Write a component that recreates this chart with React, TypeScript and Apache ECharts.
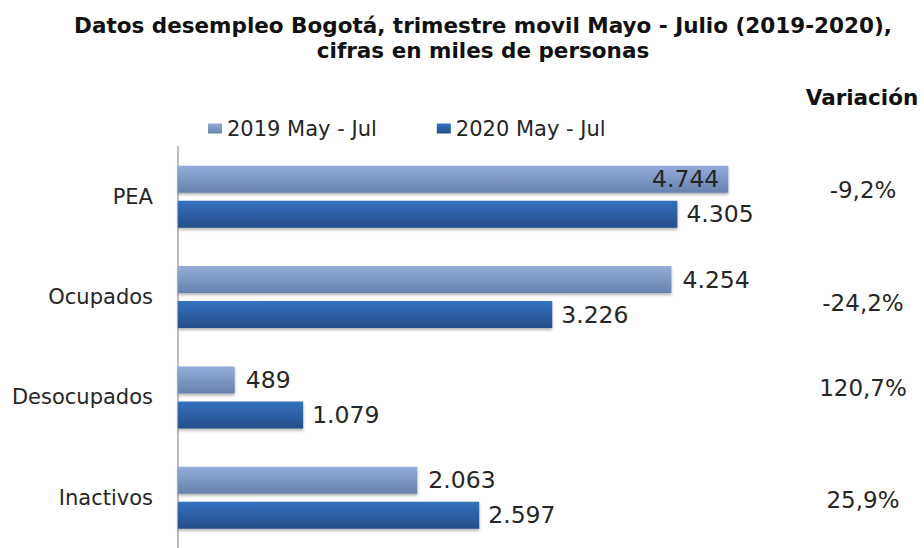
import React, { useEffect, useRef } from "react";
import * as echarts from "echarts";

const categories = ["PEA", "Ocupados", "Desocupados", "Inactivos"];
const seriesNames = ["2019 May - Jul", "2020 May - Jul"];
const values2019 = [4744, 4254, 489, 2063];
const values2020 = [4305, 3226, 1079, 2597];
const variations = ["-9,2%", "-24,2%", "120,7%", "25,9%"];
const variationY = [190, 303, 388, 500];

const fmt = (v: number) => {
  const s = Math.round(v).toString();
  return s.replace(/\B(?=(\d{3})+(?!\d))/g, ".");
};

const FONT = "DejaVu Sans";

export default function App() {
  const ref = useRef<HTMLDivElement>(null);
  useEffect(() => {
    if (!ref.current) return;
    const chart = echarts.init(ref.current, null, { renderer: "svg" });
    const grad = (top: string, bottom: string) =>
      new echarts.graphic.LinearGradient(0, 0, 0, 1, [
        { offset: 0, color: top },
        { offset: 1, color: bottom },
      ]);
    chart.setOption({
      animation: false,
      backgroundColor: "#ffffff",
      title: {
        text: "Datos desempleo Bogotá, trimestre movil Mayo - Julio (2019-2020),\ncifras en miles de personas",
        left: 478,
        top: 8,
        textAlign: "center",
        textStyle: {
          fontFamily: FONT,
          fontWeight: "bold",
          fontSize: 21.5,
          lineHeight: 25,
          color: "#111",
        },
      },
      legend: {
        left: 203,
        top: 113,
        itemWidth: 14,
        itemHeight: 10,
        itemGap: 60,
        icon: "rect",
        textStyle: { fontFamily: FONT, fontSize: 21, color: "#262626" },
        data: seriesNames,
      },
      grid: { left: 178, top: 146.5, width: 580, height: 408 },
      xAxis: {
        type: "value",
        min: 0,
        max: 5000,
        show: false,
      },
      yAxis: {
        type: "category",
        data: categories,
        inverse: true,
        axisLine: { show: true, lineStyle: { color: "#a6a6a6", width: 1.5 } },
        axisTick: { show: false },
        axisLabel: {
          fontFamily: FONT,
          fontSize: 21,
          color: "#262626",
          margin: 25,
        },
      },
      series: [
        {
          name: seriesNames[0],
          type: "bar",
          barWidth: 27,
          barGap: "30%",
          data: values2019.map((v, i) => ({
            value: v,
            label:
              i === 0
                ? { position: "insideRight", distance: 9 }
                : { position: "right", distance: 11 },
          })),
          itemStyle: {
            color: grad("#93acd9", "#6982ad"),
            shadowBlur: 3,
            shadowColor: "rgba(0,0,0,0.3)",
            shadowOffsetY: 2,
          },
          label: {
            show: true,
            formatter: (p: any) => fmt(p.value),
            fontFamily: FONT,
            fontSize: 23.5,
            color: "#262626",
          },
        },
        {
          name: seriesNames[1],
          type: "bar",
          barWidth: 27,
          barGap: "30%",
          data: values2020,
          itemStyle: {
            color: grad("#3471bf", "#264e8a"),
            shadowBlur: 3,
            shadowColor: "rgba(0,0,0,0.3)",
            shadowOffsetY: 2,
          },
          label: {
            show: true,
            position: "right",
            distance: 9,
            formatter: (p: any) => fmt(p.value),
            fontFamily: FONT,
            fontSize: 23.5,
            color: "#262626",
          },
        },
      ],
      color: ["#7f98c6", "#2e62a8"],
      graphic: [
        {
          type: "text",
          x: 862,
          y: 97,
          style: {
            text: "Variación",
            fontFamily: FONT,
            fontWeight: "bold",
            fontSize: 21.5,
            fill: "#111",
            align: "center",
            verticalAlign: "middle",
          },
        },
        ...variations.map((t, i) => ({
          type: "text",
          x: 863,
          y: variationY[i],
          style: {
            text: t,
            fontFamily: FONT,
            fontSize: 23,
            fill: "#262626",
            align: "center",
            verticalAlign: "middle",
          },
        })),
      ],
    });
    return () => chart.dispose();
  }, []);
  return (
    <div
      ref={ref}
      style={{ position: "fixed", left: 0, top: 0, width: 924, height: 548 }}
    />
  );
}
